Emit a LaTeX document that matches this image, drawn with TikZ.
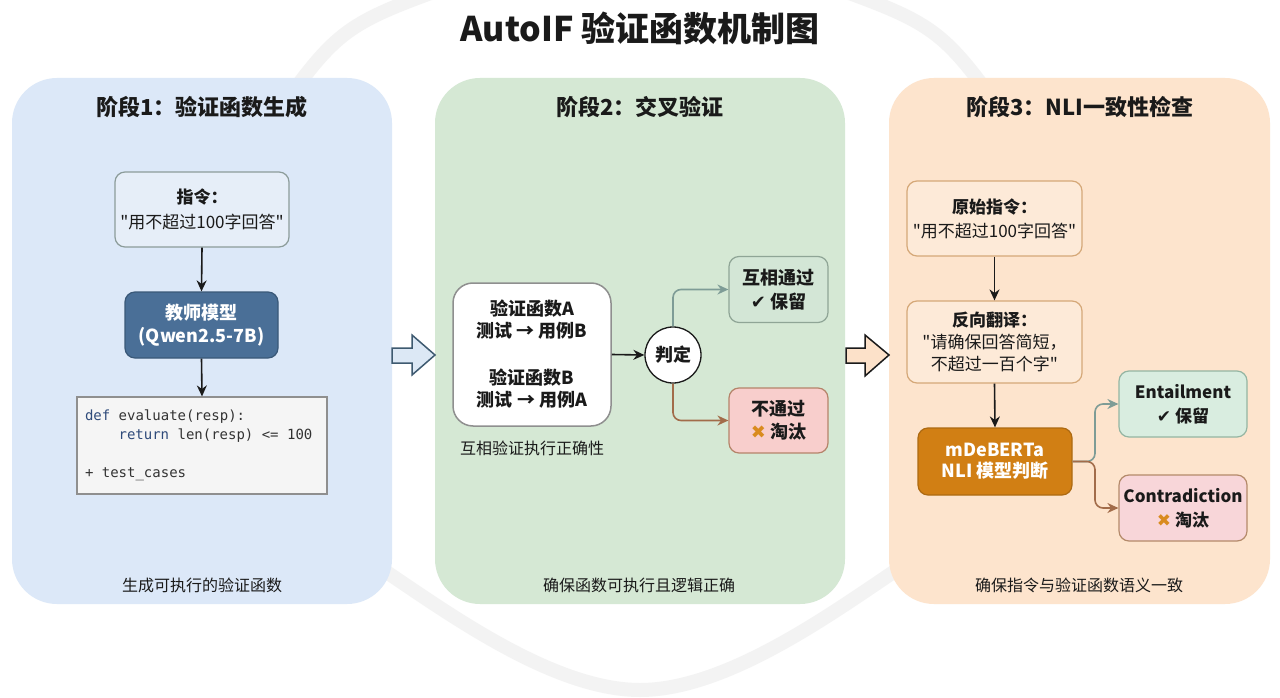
\documentclass[tikz,border=0pt]{standalone}
\usepackage{fontspec}
\setmainfont{Noto Sans CJK SC}
\newfontfamily\symfont{DejaVu Sans}
\newfontfamily\codefont{DejaVu Sans Mono}
\usetikzlibrary{arrows.meta}
\definecolor{pOne}{HTML}{DCE8F8}
\definecolor{pTwo}{HTML}{D5E8D4}
\definecolor{pThree}{HTML}{FDE4CD}
\definecolor{instFill}{HTML}{E6EEF8}
\definecolor{instDraw}{HTML}{8C9C9A}
\definecolor{teachFill}{HTML}{4A6F97}
\definecolor{teachDraw}{HTML}{3A5878}
\definecolor{codeFill}{HTML}{F5F5F5}
\definecolor{codeDraw}{HTML}{8F8F8F}
\definecolor{codeKw}{HTML}{2E4A7A}
\definecolor{codeTxt}{HTML}{333333}
\definecolor{passFill}{HTML}{D3E6D6}
\definecolor{passDraw}{HTML}{8FA596}
\definecolor{failFill}{HTML}{F8CECC}
\definecolor{failDraw}{HTML}{B5846A}
\definecolor{orFill}{HTML}{FDEAD8}
\definecolor{orDraw}{HTML}{D5A878}
\definecolor{mdbFill}{HTML}{D17F14}
\definecolor{mdbDraw}{HTML}{AD6A12}
\definecolor{entFill}{HTML}{D9EDE0}
\definecolor{entDraw}{HTML}{94B5A2}
\definecolor{conFill}{HTML}{F8D6D9}
\definecolor{conDraw}{HTML}{B48A6A}
\definecolor{tealC}{HTML}{7E9C96}
\definecolor{brownC}{HTML}{A26C4A}
\definecolor{crossC}{HTML}{D98B1E}
\definecolor{ringC}{HTML}{F3F3F3}
\definecolor{inkC}{HTML}{1A1A1A}
\definecolor{barOneFill}{HTML}{DCE8F5}
\definecolor{barOneDraw}{HTML}{3E5A70}
\definecolor{barTwoFill}{HTML}{FCE1C9}
\newcommand\fsz[2]{\fontsize{#1}{#2}\selectfont}
\newcommand\chk{{\symfont ✔}}
\newcommand\crs{{\symfont\color{crossC}✖}}
\newcommand\qq{\textquotedbl{}}
\newcommand\csp{\hspace*{0.6em}}
\begin{document}
\begin{tikzpicture}[x=1pt,y=-1pt,
  panelbox/.style={rounded corners=45pt, minimum height=526pt, inner sep=0pt},
  boxbase/.style={draw, rounded corners=10pt, line width=1.2pt, align=center, inner sep=0pt, text=inkC},
  arr/.style={-{Stealth[length=11pt,width=10pt]}, line width=1.6pt},
  ptitle/.style={font=\fsz{22}{26}\bfseries, text=inkC},
  caption/.style={font=\fsz{16}{20}, text=inkC}]
\useasboundingbox (0,0) rectangle (1280,698);
\fill[white] (0,0) rectangle (1280,698);
% faint background ring
\draw[ringC, line width=14pt] plot[smooth cycle, tension=0.6] coordinates
  {(640,-52) (868,0) (976,77) (1062,250) (1040,420) (892,573) (640,690) (388,573) (240,420) (218,250) (304,77) (412,0)};
% title
\node[font=\fsz{34}{40}\bfseries, text=inkC] (title) at (640,28) {AutoIF 验证函数机制图};
% panels
\node[panelbox, fill=pOne, minimum width=380pt] (p1) at (202,341) {};
\node[panelbox, fill=pTwo, minimum width=410pt] (p2) at (640,341) {};
\node[panelbox, fill=pThree, minimum width=381pt] (p3) at (1079.5,341) {};
\node[ptitle] (t1) at (202,107) {阶段1：验证函数生成};
\node[ptitle] (t2) at (640,107) {阶段2：交叉验证};
\node[ptitle] (t3) at (1080,107) {阶段3：NLI一致性检查};
\node[caption] (c1) at (202,585) {生成可执行的验证函数};
\node[caption] (c2) at (639,585) {确保函数可执行且逻辑正确};
\node[caption] (c3) at (1079,585) {确保指令与验证函数语义一致};
% block arrows between panels
\draw[line width=1.5pt, barOneDraw, fill=barOneFill, line join=miter]
  (392,348) -- (412,348) -- (412,335) -- (435,355) -- (412,375) -- (412,363) -- (392,363) -- cycle;
\draw[line width=1.5pt, inkC, fill=barTwoFill, line join=miter]
  (846,348) -- (865,348) -- (865,335) -- (889,355) -- (865,376) -- (865,363) -- (846,363) -- cycle;
% ---------- panel 1
\node[boxbase, fill=instFill, draw=instDraw, minimum width=174pt, minimum height=75pt, font=\fsz{17}{25}] (inst) at (202,209.5)
  {\textbf{指令：}\\\qq 用不超过100字回答\qq};
\node[boxbase, fill=teachFill, draw=teachDraw, text=white, minimum width=153pt, minimum height=66pt, font=\fsz{18}{23}\bfseries] (teach) at (201.5,325)
  {教师模型\\(Qwen2.5-7B)};
\node[draw=codeDraw, fill=codeFill, line width=1.2pt, minimum width=250pt, minimum height=97pt,
  inner xsep=8pt, inner ysep=0pt, text width=234pt, align=left, font=\codefont\fsz{14}{19}, text=codeTxt] (code) at (202,445.5)
  {{\color{codeKw}def}\csp evaluate(resp):\\
   \csp\csp\csp\csp{\color{codeKw}return}\csp len(resp)\csp<=\csp100\\
   \mbox{}\\
   +\csp test\_cases};
\draw[arr, inkC] (inst.south) -- (teach.north);
\draw[arr, inkC] (teach.south) -- (code.north);
% ---------- panel 2
\node[boxbase, fill=white, draw=codeDraw, rounded corners=20pt, line width=1.5pt, minimum width=158pt, minimum height=143pt, font=\fsz{18}{22}\bfseries] (pair) at (532,354.5)
  {验证函数A\\测试 → 用例B\\[25pt]验证函数B\\测试 → 用例A};
\node[caption] (c2b) at (532,448) {互相验证执行正确性};
\node[circle, draw=inkC, fill=white, line width=1.3pt, minimum size=56pt, inner sep=0pt, font=\fsz{18}{22}\bfseries, text=inkC] (judge) at (673,355) {判定};
\node[boxbase, fill=passFill, draw=passDraw, minimum width=99pt, minimum height=66pt, font=\fsz{18}{24}\bfseries] (pass) at (778.5,289.5)
  {互相通过\\\chk\ 保留};
\node[boxbase, fill=failFill, draw=failDraw, minimum width=99pt, minimum height=65pt, font=\fsz{18}{23}\bfseries] (fail) at (778.5,420.5)
  {不通过\\\crs\ 淘汰};
\draw[arr, inkC] (pair.east) -- (judge.west);
\draw[arr, tealC, rounded corners=8pt] (judge.north) |- (pass.west);
\draw[arr, brownC, rounded corners=8pt] (judge.south) |- (fail.west);
% ---------- panel 3
\node[boxbase, fill=orFill, draw=orDraw, minimum width=175pt, minimum height=75pt, font=\fsz{17}{24}] (orig) at (994.5,218.5)
  {\textbf{原始指令：}\\\qq 用不超过100字回答\qq};
\node[boxbase, fill=orFill, draw=orDraw, minimum width=175pt, minimum height=82pt, font=\fsz{17}{22}] (back) at (994.5,342)
  {\textbf{反向翻译：}\\\qq 请确保回答简短，\\不超过一百个字\qq};
\node[boxbase, fill=mdbFill, draw=mdbDraw, text=white, minimum width=154pt, minimum height=67pt, font=\fsz{18}{21}\bfseries] (mdb) at (995,461.5)
  {mDeBERTa\\NLI 模型判断};
\node[boxbase, fill=entFill, draw=entDraw, minimum width=128pt, minimum height=66pt, font=\fsz{17}{24}\bfseries] (ent) at (1183,404)
  {Entailment\\\chk\ 保留};
\node[boxbase, fill=conFill, draw=conDraw, minimum width=128pt, minimum height=66pt, font=\fsz{17}{24}\bfseries] (con) at (1183,508)
  {Contradiction\\\crs\ 淘汰};
\coordinate (split) at (1095,461.5);
\draw[arr, inkC] (orig.south) -- (back.north);
\draw[arr, inkC] (back.south) -- (mdb.north);
\draw[arr, tealC, rounded corners=8pt] (mdb.east) -- (split) |- (ent.west);
\draw[arr, brownC, rounded corners=8pt] (mdb.east) -- (split) |- (con.west);
\end{tikzpicture}
\end{document}
